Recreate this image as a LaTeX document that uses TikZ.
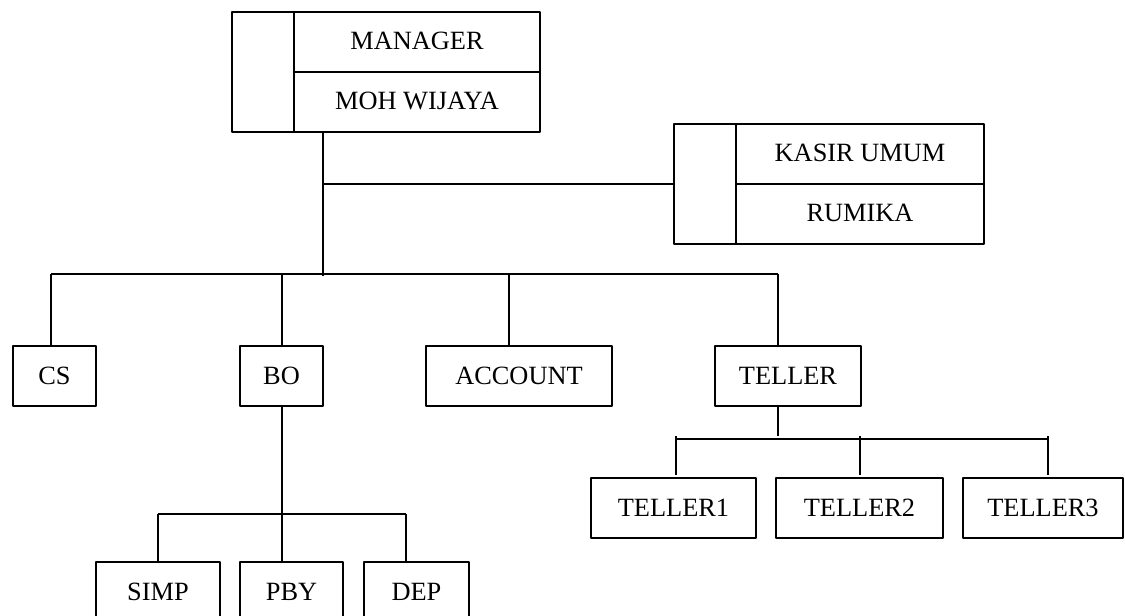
\documentclass[tikz,border=0pt]{standalone}
\usepackage{fontspec}
\setmainfont{Liberation Serif}
\usetikzlibrary{positioning}
\tikzset{box/.style={draw,line width=1pt,inner sep=0pt,outer sep=0pt,minimum height=12mm},
  lbl/.style={inner sep=0pt},
  link/.style={line width=1pt}}

\begin{document}
\begin{tikzpicture}[x=0.2mm,y=-0.2mm,line join=round,font=\fontsize{15}{18}\selectfont]
\useasboundingbox (0,0) rectangle (1125,616);
% --- top: manager and kasir umum (split boxes)
\node[box,minimum width=61.6mm,minimum height=24mm] (mgr) at (386,72) {};
\draw[link] ([shift={(62,0)}]mgr.north west) coordinate (mdiv) -- ([shift={(62,0)}]mgr.south west);
\draw[link] (mgr.center -| mdiv) -- (mgr.east);
\node[lbl] (mgrrole) at (417,41) {MANAGER}; \node[lbl] (mgrname) at (417,101) {MOH WIJAYA};
\node[box,minimum width=62mm,minimum height=24mm] (kas) at (829,184) {};
\draw[link] ([shift={(62,0)}]kas.north west) coordinate (kdiv) -- ([shift={(62,0)}]kas.south west);
\draw[link] (kas.center -| kdiv) -- (kas.east);
\node[lbl] (kasrole) at (860,153) {KASIR UMUM}; \node[lbl] (kasname) at (860,213) {RUMIKA};
% --- units
\node[box,minimum width=16.6mm] (cs) at (54.5,376) {CS};
\node[box,minimum width=16.6mm] (bo) at (281.5,376) {BO};
\node[box,minimum width=37.2mm] (acc) at (519,376) {ACCOUNT};
\node[box,minimum width=29.2mm] (tel) at (788,376) {TELLER};
\node[box,minimum width=24.8mm] (simp) at (158,592) {SIMP};
\node[box,minimum width=20.6mm] (pby) at (291.5,592) {PBY};
\node[box,minimum width=21mm] (dep) at (416.5,592) {DEP};
\node[box,minimum width=33mm] (t1) at (673.5,508) {TELLER1};
\node[box,minimum width=33.4mm] (t2) at (859.5,508) {TELLER2};
\node[box,minimum width=32mm] (t3) at (1043,508) {TELLER3};
% --- lines
\coordinate (mj) at (323,276.5); \coordinate (bus1) at (323,274);
\draw[link] (mgr.south -| mj) -- (mj);
\draw[link] (kas.west) -- (kas.west -| mj);
\draw[link] ([shift={(-3.5,0)}]cs.north |- bus1) -- ([shift={(-10,0)}]tel.north |- bus1);
\foreach \n/\dx in {cs/-3.5,bo/0.5,acc/-10,tel/-10}
  \draw[link] ([shift={(\dx,0)}]\n.north |- bus1) -- ([shift={(\dx,0)}]\n.north);
\coordinate (bus2) at (282,514);
\draw[link] ([shift={(0.5,0)}]bo.south) -- (bus2);
\draw[link] (simp.north |- bus2) -- ([shift={(-10.5,0)}]dep.north |- bus2);
\foreach \n/\dx in {simp/0,pby/-9.5,dep/-10.5}
  \draw[link] ([shift={(\dx,0)}]\n.north |- bus2) -- ([shift={(\dx,0)}]\n.north);
\coordinate (bus3) at (778,439);
\draw[link] ([shift={(-10,0)}]tel.south) -- ([shift={(-10,-3)}]tel.south |- bus3);
\draw[link] ([shift={(2.5,0)}]t1.north |- bus3) -- ([shift={(5,0)}]t3.north |- bus3);
\foreach \n/\dx in {t1/2.5,t2/0.5,t3/5}
  \draw[link] ([shift={(\dx,-3)}]\n.north |- bus3) -- ([shift={(\dx,-3)}]\n.north);
\end{tikzpicture}
\end{document}
